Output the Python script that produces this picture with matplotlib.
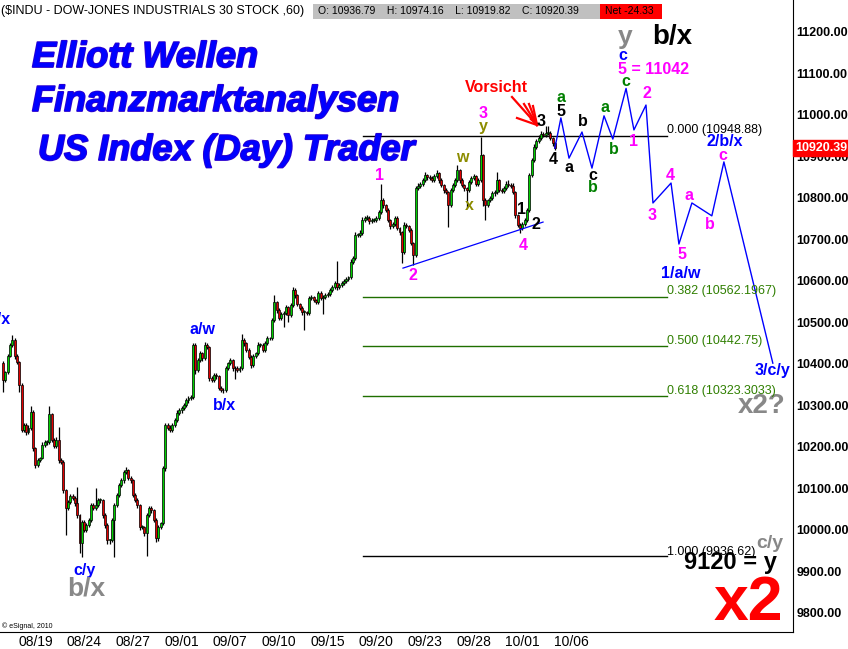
import matplotlib
matplotlib.use('Agg')
import matplotlib.pyplot as plt
import matplotlib.patheffects as pe
from matplotlib.lines import Line2D
from matplotlib.patches import Rectangle, Polygon

plt.rcParams['font.family'] = ['Liberation Sans', 'DejaVu Sans']

# ---------------- data ----------------
first_open = 10402
closes = [
    10361, 10380, 10419, 10446, 10458, 10419, 10405, 10349, 10241, 10253,
    10236, 10246, 10284, 10197, 10156, 10168, 10173, 10205, 10212, 10212,
    10279, 10217, 10202, 10217, 10168, 10164, 10096, 10053, 10067, 10082,
    10077, 10065, 10036, 9968, 10019, 10000, 10012, 10024, 10060, 10053,
    10060, 10072, 10072, 10036, 10012, 9976, 9976, 10024, 10060, 10084,
    10108, 10120, 10139, 10144, 10125, 10120, 10084, 10072, 10060, 10007,
    10007, 9992, 10036, 10053, 10048, 10024, 9980, 10007, 10017, 10149,
    10253, 10246, 10241, 10253, 10265, 10282, 10289, 10294, 10301, 10313,
    10318, 10320, 10446, 10385, 10409, 10426, 10414, 10446, 10441, 10366,
    10361, 10373, 10371, 10342, 10337, 10337, 10390, 10402, 10409, 10390,
    10390, 10385, 10390, 10458, 10450, 10434, 10417, 10397, 10419, 10426,
    10446, 10446, 10434, 10450, 10462, 10462, 10506, 10549, 10530, 10511,
    10520, 10523, 10537, 10518, 10542, 10578, 10566, 10544, 10535, 10525,
    10525, 10523, 10559, 10561, 10554, 10549, 10571, 10559, 10561, 10566,
    10569, 10578, 10585, 10595, 10585, 10590, 10595, 10600, 10605, 10609,
    10646, 10655, 10711, 10711, 10716, 10747, 10752, 10752, 10744, 10747,
    10747, 10752, 10766, 10795, 10783, 10771, 10747, 10732, 10737, 10752,
    10728, 10718, 10670, 10735, 10732, 10723, 10691, 10663, 10824, 10829,
    10834, 10843, 10855, 10850, 10848, 10843, 10853, 10860, 10843, 10831,
    10819, 10814, 10783, 10819, 10831, 10843, 10867, 10843, 10831, 10824,
    10819, 10838, 10848, 10853, 10834, 10843, 10903, 10795, 10783, 10795,
    10800, 10812, 10814, 10843, 10819, 10817, 10824, 10834, 10831, 10829,
    10814, 10759, 10735, 10728, 10737, 10747, 10771, 10855, 10891, 10923,
    10937, 10944, 10954, 10952, 10957, 10957, 10944, 10932, 10920]

wick_up = [
    5, 4, 6, 5, 12, 4, 5, 3, 6, 5,
    4, 6, 15, 4, 3, 5, 4, 6, 5, 4,
    20, 4, 5, 6, 31, 5, 4, 3, 6, 5,
    4, 5, 38, 3, 6, 5, 4, 6, 5, 4,
    40, 5, 4, 3, 5, 4, 3, 6, 5, 4,
    5, 6, 5, 8, 4, 5, 3, 4, 5, 3,
    4, 3, 6, 5, 4, 3, 5, 4, 3, 6,
    5, 4, 6, 5, 4, 6, 5, 4, 5, 6,
    4, 5, 5, 4, 6, 5, 4, 8, 5, 3,
    4, 6, 5, 3, 4, 5, 6, 4, 5, 3,
    4, 5, 4, 14, 5, 3, 4, 5, 6, 4,
    6, 5, 4, 6, 5, 4, 6, 17, 3, 4,
    5, 4, 6, 3, 5, 8, 4, 3, 4, 5,
    4, 3, 6, 5, 4, 3, 6, 4, 5, 4,
    5, 4, 5, 6, 53, 4, 5, 4, 5, 4,
    6, 5, 8, 4, 6, 7, 5, 6, 4, 5,
    4, 5, 6, 39, 4, 3, 4, 3, 6, 5,
    4, 3, 3, 6, 5, 3, 4, 3, 5, 6,
    5, 6, 7, 4, 5, 4, 6, 7, 3, 4,
    3, 4, 3, 6, 5, 6, 13, 3, 4, 3,
    3, 6, 5, 4, 3, 6, 44, 3, 4, 3,
    4, 6, 5, 20, 3, 4, 6, 7, 10, 5,
    8, 3, 3, 4, 5, 6, 5, 6, 6, 7,
    6, 7, 8, 6, 16, 16, 5, 4, 3]

wick_dn = [
    29, 5, 4, 3, 5, 6, 4, 17, 6, 5,
    6, 5, 4, 6, 7, 5, 4, 3, 5, 6,
    4, 6, 5, 4, 6, 5, 7, 65, 5, 4,
    5, 6, 7, 24, 33, 6, 5, 4, 5, 6,
    5, 4, 6, 8, 6, 10, 10, 5, 89, 4,
    5, 4, 6, 5, 4, 6, 5, 4, 6, 8,
    5, 7, 55, 4, 6, 5, 8, 6, 5, 4,
    6, 5, 4, 6, 5, 4, 5, 6, 4, 5,
    6, 5, 4, 8, 5, 4, 6, 5, 4, 6,
    5, 4, 6, 5, 4, 6, 5, 4, 5, 6,
    27, 5, 4, 5, 6, 5, 4, 6, 5, 4,
    5, 4, 6, 5, 4, 5, 4, 5, 6, 5,
    4, 30, 5, 17, 4, 5, 6, 5, 4, 6,
    43, 5, 4, 6, 5, 4, 5, 6, 38, 4,
    5, 4, 5, 4, 6, 5, 4, 5, 4, 5,
    4, 5, 4, 6, 5, 4, 5, 4, 6, 5,
    4, 5, 4, 5, 6, 4, 5, 6, 5, 4,
    5, 6, 27, 4, 5, 6, 5, 25, 5, 4,
    5, 4, 5, 6, 5, 4, 5, 4, 6, 5,
    6, 5, 53, 4, 5, 4, 5, 6, 5, 6,
    43, 5, 4, 5, 6, 4, 5, 15, 36, 5,
    4, 5, 6, 4, 5, 6, 4, 5, 4, 6,
    5, 6, 5, 12, 5, 4, 6, 5, 4, 5,
    4, 5, 4, 6, 5, 4, 5, 6, 4]

bars_per_day = 7
date_labels = ['08/19', '08/24', '08/27', '09/01', '09/07', '09/10',
               '09/15', '09/20', '09/23', '09/28', '10/01', '10/06']
date_day_index = [2, 5, 8, 11, 14, 17, 20, 23, 26, 29, 32, 35]

yticks = [9800, 9900, 10000, 10100, 10200, 10300, 10400, 10500,
          10600, 10700, 10800, 10900, 11000, 11100, 11200]

# projected Elliott path (bar index, price)
proj_x = [238, 240.6, 244.1, 249.7, 254.0, 259.2, 263.0, 268.7, 272.1,
          277.3, 280.3, 288.1, 291.5, 297.1, 305.7, 310.9, 332.0]
proj_v = [10920, 10993, 10896, 10959, 10872, 10998, 10942, 11064, 10964,
          11024, 10788, 10836, 10689, 10788, 10757, 10887, 10402]

# lower trend line
trend_x = [172.5, 232.9]
trend_v = [10631, 10742]

# fibonacci retracement
fib_ratio = ['0.000', '0.382', '0.500', '0.618', '1.000']
fib_price = [10948.88, 10562.1967, 10442.75, 10323.3033, 9936.62]
fib_start, fib_end = 155.2, 286.3

last_close = 10920.39
header_title = '($INDU - DOW-JONES INDUSTRIALS 30 STOCK ,60)'
header_ohlc = 'O: 10936.79    H: 10974.16    L: 10919.82    C: 10920.39'
header_net = 'Net -24.33'

# ---------------- figure ----------------
W, H = 848, 649
fig = plt.figure(figsize=(W / 100, H / 100), dpi=100)
AX_R, AX_B = 793, 632
ax = fig.add_axes([0, 1 - AX_B / H, AX_R / W, AX_B / H])
ax.set_xlim(-1.29, 340.7)
ax.set_ylim(9754.2, 11277.1)

# candles
n = min(len(closes), len(wick_up), len(wick_dn))
opens = [first_open] + closes[:n - 1]
xs = list(range(n))
highs = [max(opens[i], closes[i]) + wick_up[i] for i in range(n)]
lows = [min(opens[i], closes[i]) - wick_dn[i] for i in range(n)]
ax.vlines(xs, lows, highs, color='black', lw=0.9, zorder=2)
bottoms = [min(opens[i], closes[i]) for i in range(n)]
heights = [max(abs(closes[i] - opens[i]), 1.5) for i in range(n)]
cols = ['#00d000' if closes[i] >= opens[i] else '#e00000' for i in range(n)]
ax.bar(xs, heights, bottom=bottoms, width=0.85, color=cols,
       edgecolor='black', linewidth=0.5, zorder=3)

# fib lines
for r, p in zip(fib_ratio, fib_price):
    c = 'black' if r in ('0.000', '1.000') else '#1f6f00'
    ax.plot([fib_start, fib_end], [p, p], color=c, lw=1, zorder=1)

ax.plot(trend_x, trend_v, color='#0000ff', lw=0.9, zorder=4)
ax.plot(proj_x, proj_v, color='#0000ff', lw=1, zorder=4)

# axes styling
for s in ('top', 'left'):
    ax.spines[s].set_visible(False)
ax.spines['right'].set_color('black')
ax.spines['bottom'].set_color('black')
ax.yaxis.tick_right()
ax.set_yticks(yticks)
ax.set_yticklabels([f'{v:.2f}' for v in yticks])
ax.tick_params(axis='y', length=0, pad=2.5, labelsize=9)
for lbl in ax.get_yticklabels():
    lbl.set_fontweight('bold')
ax.set_xticks([d * bars_per_day for d in date_day_index])
ax.set_xticklabels(date_labels)
ax.tick_params(axis='x', length=0, pad=2.5, labelsize=10)

ax.annotate(f'{last_close:.2f}', xy=(1, last_close),
            xycoords=('axes fraction', 'data'), xytext=(1.5, 0),
            textcoords='offset points', ha='left', va='center',
            color='white', fontsize=9, fontweight='bold',
            bbox=dict(boxstyle='square,pad=0.15', fc='#ff0000', ec='#ff0000'),
            annotation_clip=False, zorder=10)


def ptxt(px, py, s, color, size, weight='bold', ha='center', va='center', **kw):
    return fig.text(px / W, 1 - py / H, s, color=color, fontsize=size,
                    fontweight=weight, ha=ha, va=va, **kw)


BLUE = '#0000ff'
MAG = '#ff00ff'
OLV = '#8c8c00'
GRN = '#008000'
GRAY = '#888888'

# title
for (x0, yb, s) in [(32, 67, 'Elliott Wellen'), (32, 111, 'Finanzmarktanalysen'),
                    (38, 160, 'US Index (Day) Trader')]:
    t = ptxt(x0, yb, s, BLUE, 26, style='italic', ha='left', va='baseline')
    t.set_path_effects([pe.Stroke(linewidth=1.3, foreground='#2a00d0'), pe.Normal()])

# header
ptxt(1, 11, header_title, 'black', 9, weight='normal', ha='left')
fig.add_artist(Rectangle((313 / W, 1 - 19 / H), (600 - 313) / W, 15 / H,
                         transform=fig.transFigure, fc='#c0c0c0', ec='none'))
fig.add_artist(Rectangle((600 / W, 1 - 19 / H), 62 / W, 15 / H,
                         transform=fig.transFigure, fc='#ff0000', ec='none'))
ptxt(318, 11.5, header_ohlc, 'black', 7.5, weight='normal', ha='left')
ptxt(605, 11.5, header_net, 'black', 7.5, weight='normal', ha='left')
ptxt(2, 626, '\u00a9 eSignal, 2010', 'black', 5, weight='normal', ha='left')

# wave labels
labels = [
    (380, 176, '1', MAG), (413, 276, '2', MAG), (483, 113, '3', MAG), (483, 127, 'y', OLV),
    (462, 158, 'w', OLV), (469, 206, 'x', OLV), (522, 209, '1', 'black'), (536, 225, '2', 'black'),
    (523, 245, '4', MAG), (541, 121, '3', 'black'), (553, 160, '4', 'black'),
    (561, 98, 'a', GRN), (561, 112, '5', 'black'), (569, 167, 'a', 'black'), (583, 122, 'b', 'black'),
    (593, 176, 'c', 'black'), (593, 188, 'b', GRN), (605, 107, 'a', GRN), (614, 149, 'b', GRN),
    (626, 82, 'c', GRN), (623, 56, 'c', BLUE), (647, 94, '2', MAG), (634, 141, '1', MAG),
    (670, 175, '4', MAG), (689, 195, 'a', MAG), (652, 215, '3', MAG), (710, 225, 'b', MAG),
    (682, 255, '5', MAG), (723, 155, 'c', MAG), (654, 70, '5 = 11042', MAG),
    (725, 141, '2/b/x', BLUE), (681, 273, '1/a/w', BLUE), (772, 371, '3/c/y', BLUE),
    (202, 329, 'a/w', BLUE), (224, 406, 'b/x', BLUE), (84, 570, 'c/y', BLUE),
]
for px, py, s, c in labels:
    ptxt(px, py, s, c, 11.5)

ax.text(11 / AX_R, 1 - 319 / AX_B, 'b/x', transform=ax.transAxes, color=BLUE,
        fontsize=11.5, fontweight='bold', ha='right', va='center', clip_on=True)

ptxt(625, 37, 'y', GRAY, 19)
ptxt(672, 37, 'b/x', 'black', 20)
ptxt(762, 406, 'x2?', GRAY, 20)
ptxt(770, 543, 'c/y', GRAY, 14)
ptxt(86, 589, 'b/x', GRAY, 19)
ptxt(730, 563, '9120 = y', 'black', 17)
ptxt(748, 604, 'x2', '#ff0000', 45)
ptxt(496, 87, 'Vorsicht', '#ff0000', 11.5)

# fib labels
fib_base_py = [133, 294, 344, 394, 555]
for r, p, by in zip(fib_ratio, fib_price, fib_base_py):
    c = 'black' if r in ('0.000', '1.000') else '#2f7f00'
    ptxt(667, by, f'{r} ({p})', c, 9, weight='normal', ha='left', va='baseline')

# red warning arrows
tip = (537, 125)
for sx, sy in [(512, 97), (517, 118), (524, 104), (529, 104), (533, 106)]:
    fig.add_artist(Line2D([sx / W, tip[0] / W], [1 - sy / H, 1 - tip[1] / H],
                          transform=fig.transFigure, color='#ff0000', lw=1.6))
fig.add_artist(Polygon([(tip[0] / W, 1 - tip[1] / H), (530 / W, 1 - 119 / H),
                        (535 / W, 1 - 116 / H)], closed=True,
                       transform=fig.transFigure, fc='#ff0000', ec='#ff0000'))

fig.savefig('out.png', dpi=100)
